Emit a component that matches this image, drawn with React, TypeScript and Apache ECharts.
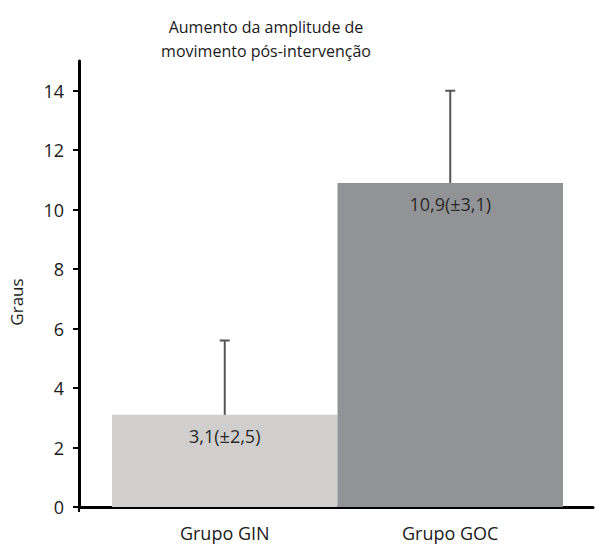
import React, { useEffect, useRef } from "react";
import * as echarts from "echarts";

const categories = ["Grupo GIN", "Grupo GOC"];
const means = [3.1, 10.9];
const sds = [2.5, 3.1];
const barColors = ["#d0cfcd", "#929397"];
const yTicks = [0, 2, 4, 6, 8, 10, 12, 14];
const titleLines = ["Aumento da amplitude de", "movimento pós-intervenção"];
const yName = "Graus";

const fmt = (v: number) => v.toFixed(1).replace(".", ",");
const FONT = "Open Sans";
const TXT = "#1a1a1a";

export default function App() {
  const ref = useRef<HTMLDivElement>(null);
  useEffect(() => {
    if (!ref.current) return;
    const chart = echarts.init(ref.current, undefined, { renderer: "svg" });
    const option: any = {
      animation: false,
      backgroundColor: "#ffffff",
      textStyle: { fontFamily: FONT },
      title: {
        text: titleLines.join("\n"),
        left: 261,
        top: 10,
        textAlign: "center",
        textStyle: { fontFamily: FONT, fontSize: 16, fontWeight: "normal", color: TXT, lineHeight: 24 },
      },
      grid: [
        { left: 71, right: 2, top: 61, bottom: 37 },
        { left: 112, right: 32, top: 61, bottom: 37 },
      ],
      xAxis: [
        {
          type: "value",
          gridIndex: 0,
          min: 0,
          max: 1,
          axisLine: { show: true, onZero: false, lineStyle: { color: "#000", width: 3 } },
          axisTick: { show: true, customValues: [0], length: 5, lineStyle: { color: "#000", width: 2 } },
          axisLabel: { show: false },
          splitLine: { show: false },
        },
        {
          type: "category",
          gridIndex: 1,
          data: categories,
          axisLine: { show: false },
          axisTick: { show: false },
          axisLabel: { margin: 17, fontSize: 18, color: TXT, fontFamily: FONT },
          splitLine: { show: false },
        },
      ],
      yAxis: [
        {
          type: "value",
          gridIndex: 0,
          min: 0,
          max: 15,
          interval: 2,
          name: yName,
          nameLocation: "middle",
          nameGap: 54,
          nameTextStyle: { fontSize: 17, color: TXT, fontFamily: FONT, padding: [0, 36, 0, 0] },
          axisLine: { show: true, lineStyle: { color: "#000", width: 3 } },
          axisTick: { show: true, customValues: yTicks, length: 6, lineStyle: { color: "#000", width: 2 } },
          axisLabel: { customValues: yTicks, margin: 15, fontSize: 18, color: TXT, fontFamily: FONT },
          splitLine: { show: false },
        },
        {
          type: "value",
          gridIndex: 1,
          min: 0,
          max: 15,
          show: false,
          splitLine: { show: false },
        },
      ],
      series: [
        {
          type: "bar",
          xAxisIndex: 1,
          yAxisIndex: 1,
          barCategoryGap: "0%",
          data: means.map((m, i) => ({ value: m, itemStyle: { color: barColors[i] } })),
          label: {
            show: true,
            position: "insideTop",
            distance: 12,
            fontSize: 18,
            color: "#2a2a2a",
            fontFamily: FONT,
            formatter: (p: any) => `${fmt(means[p.dataIndex])}(±${fmt(sds[p.dataIndex])})`,
          },
        },
        {
          type: "custom",
          xAxisIndex: 1,
          yAxisIndex: 1,
          z: 5,
          data: means.map((m, i) => [i, m, m + sds[i]]),
          renderItem: (_params: any, api: any) => {
            const x = api.value(0);
            const lo = api.coord([x, api.value(1)]);
            const hi = api.coord([x, api.value(2)]);
            const style = { stroke: "#555", lineWidth: 2 };
            return {
              type: "group",
              children: [
                { type: "line", shape: { x1: lo[0], y1: lo[1], x2: hi[0], y2: hi[1] }, style },
                { type: "line", shape: { x1: hi[0] - 5, y1: hi[1], x2: hi[0] + 5, y2: hi[1] }, style },
              ],
            };
          },
        },
      ],
    };
    chart.setOption(option);
    return () => chart.dispose();
  }, []);
  return <div ref={ref} style={{ position: "fixed", left: 0, top: 0, width: 595, height: 544 }} />;
}
